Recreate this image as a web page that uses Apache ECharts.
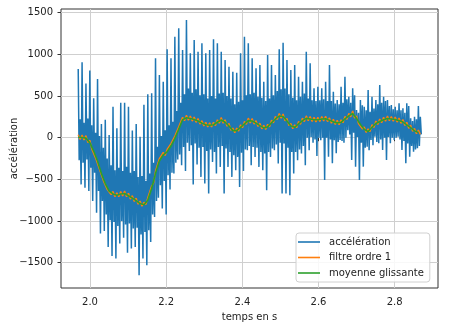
<!DOCTYPE html>
<html><head><meta charset="utf-8">
<script src="https://cdn.jsdelivr.net/npm/echarts@6/dist/echarts.min.js"></script>
<style>html,body{margin:0;padding:0;background:#fff}#c{width:450px;height:323px}</style>
</head><body><div id="c"></div>
<script>
// sampling: first sample time (s) and acceleration sample period (s)
const t0 = 1.969;
const dt = 0.0025375;
// acceleration, one oscillation after another: crest, low core value, high core value, trough
const crest = [825,906,650,805,472,703,163,215,33,370,114,419,419,370,85,163,12,394,520,532,952,752,672,1060,952,1211,1312,1052,1411,1012,1171,1031,1132,1012,1052,1180,1132,1031,932,852,792,780,1012,1211,1132,952,832,872,672,992,872,752,1060,1140,932,812,872,732,672,1031,892,592,612,592,672,872,552,452,612,732,492,592,332,452,372,572,492,452,632,492,452,392,372,412,352,412,232,252,380];
const coreLow = [-270,-300,-260,-360,-420,-640,-760,-920,-990,-1010,-1060,-1000,-1040,-1030,-1090,-1080,-1160,-1130,-1110,-920,-760,-570,-520,-450,-420,-300,-200,-110,-60,-90,-70,-120,-110,-160,-140,-170,-110,-100,-130,-170,-210,-230,-180,-140,-100,-110,-120,-170,-190,-170,-130,-80,-60,-70,-120,-170,-170,-140,-100,0,10,-20,0,0,0,-20,-30,-50,-40,0,40,60,10,-60,-120,-150,-90,-50,-20,0,10,0,0,-20,-40,-70,-100,-140,-100];
const coreHigh = [220,180,230,150,60,20,-120,-250,-330,-390,-360,-400,-350,-420,-400,-470,-460,-520,-430,-300,-110,20,90,150,190,320,420,520,590,540,580,510,520,470,500,470,530,540,500,470,400,430,450,510,520,540,490,480,440,470,510,560,580,590,520,480,450,490,530,470,450,440,450,460,440,440,410,400,420,460,420,510,300,390,330,310,350,400,420,440,380,340,330,330,300,380,200,220,250];
const trough = [-560,-600,-640,-760,-900,-1150,-1120,-1310,-1420,-1450,-1270,-1200,-1380,-1330,-1310,-1650,-1450,-1530,-1250,-950,-720,-850,-920,-620,-430,-260,-330,-400,-160,-560,-320,-470,-550,-670,-290,-430,-350,-670,-350,-470,-390,-590,-400,-150,-330,-230,-350,-390,-630,-230,-150,-310,-670,-670,-690,-430,-270,-190,-330,-150,-60,-220,-30,-507,-227,-307,-187,-27,-60,90,-267,-347,-507,-347,-107,-27,12,-67,-147,-267,-67,-27,12,-147,-307,-227,-167,-127,40];
// first-order filter output, two values per oscillation
const filtreOrdre1 = [35,-22, 32,-27, 25,-58, -30,-135, -130,-245, -250,-380, -400,-515, -520,-620, -610,-683, -645,-708, -660,-708, -645,-698, -640,-708, -667,-736, -695,-765, -725,-798, -760,-823, -775,-803, -720,-705, -580,-545, -400,-380, -250,-268, -177,-213, -140,-160, -70,-80, 20,20, 130,133, 245,203, 270,210, 260,199, 248,184, 230,163, 205,140, 185,128, 180,128, 185,145, 215,174, 242,174, 215,138, 170,88, 115,60, 115,80, 155,120, 195,160, 235,178, 230,163, 205,135, 175,107, 148,99, 160,130, 210,178, 255,218, 290,233, 285,203, 230,145, 170,108, 155,120, 195,160, 235,194, 262,204, 255,195, 245,190, 245,195, 255,202, 258,193, 238,174, 220,159, 208,157, 215,180, 255,219, 292,251, 320,235, 260,170, 190,105, 130,63, 105,75, 155,123, 200,158, 225,180, 245,198, 260,203, 255,197, 248,187, 235,172, 218,147, 185,113, 150,76, 112,47, 92,40];
// moving average, one value per oscillation
const moyenneGlissante = [5,2,-5,-60,-160,-280,-430,-550,-640,-675,-690,-675,-670,-697,-725,-755,-790,-805,-750,-610,-430,-280,-207,-170,-100,-10,100,215,240,230,218,200,175,155,150,155,185,212,185,140,85,85,125,165,205,200,175,145,118,130,180,225,260,255,200,140,125,165,205,232,225,215,215,225,228,208,190,178,185,225,262,290,230,160,100,75,125,170,195,215,230,225,218,205,188,155,120,82,62];
const seriesNames = ['accélération','filtre ordre 1','moyenne glissante'];
const xTicks = [2.0, 2.2, 2.4, 2.6, 2.8];
const yTicks = [-1500, -1000, -500, 0, 500, 1000, 1500];

const font = 'DejaVu Sans';
const accData = [];
crest.forEach((p,k)=>{
  [p, coreLow[k], coreHigh[k], trough[k]].forEach((v,j)=>accData.push([t0+(4*k+j)*dt, v]));
});
const filtData = filtreOrdre1.map((v,i)=>[t0+2*i*dt, v]);
const moyData = moyenneGlissante.map((v,i)=>[t0+4*i*dt, v]);

const chart = echarts.init(document.getElementById('c'), null, {renderer:'canvas'});
chart.setOption({
  animation:false,
  textStyle:{fontFamily:font},
  grid:{left:61, top:9, width:377, height:279, outerBoundsMode:'none', containLabel:false,
    show:true, borderColor:'#333', borderWidth:1, backgroundColor:'#fff'},
  xAxis:{type:'value', min:1.9238, max:2.9137, splitNumber:5,
    name:'temps en s', nameLocation:'middle', nameGap:24, nameMoveOverlap:false,
    nameTextStyle:{fontFamily:font, fontSize:10, color:'#222'},
    axisLine:{show:false},
    axisTick:{show:true, inside:false, length:3.5, lineStyle:{color:'#333'}, customValues:xTicks},
    axisLabel:{fontFamily:font, fontSize:10, color:'#222', margin:9, customValues:xTicks, formatter:v=>Number(v).toFixed(1)},
    splitLine:{show:true, lineStyle:{color:'#cfcfcf', width:1}}},
  yAxis:{type:'value', min:-1803, max:1544, splitNumber:7,
    name:'accélération', nameLocation:'middle', nameGap:42, nameMoveOverlap:false,
    nameTextStyle:{fontFamily:font, fontSize:10, color:'#222'},
    axisLine:{show:false},
    axisTick:{show:true, inside:false, length:3.5, lineStyle:{color:'#333'}, customValues:yTicks},
    axisLabel:{fontFamily:font, fontSize:10, color:'#222', margin:8, customValues:yTicks, formatter:v=>String(v).replace('-','\u2212')},
    splitLine:{show:true, lineStyle:{color:'#cfcfcf', width:1}}},
  legend:{orient:'vertical', left:296, top:233, width:137,
    backgroundColor:'rgba(255,255,255,0.85)', borderColor:'#d0d0d0', borderWidth:1, borderRadius:3,
    padding:[3,6,3,2], itemGap:3.5, itemWidth:22, itemHeight:1.6, icon:'rect',
    textStyle:{fontFamily:font, fontSize:10, color:'#222', padding:[0,0,0,4], lineHeight:12},
    data:seriesNames},
  series:[
    {name:seriesNames[0], type:'line', data:accData, symbol:'none', sampling:null, lineStyle:{color:'#1f77b4', width:1.5}, itemStyle:{color:'#1f77b4'}, z:2},
    {name:seriesNames[1], type:'line', data:filtData, symbol:'none', lineStyle:{color:'#ff7f0e', width:1.4}, itemStyle:{color:'#ff7f0e'}, z:3},
    {name:seriesNames[2], type:'line', data:moyData, symbol:'none', lineStyle:{color:'#2ca02c', width:1.6}, itemStyle:{color:'#2ca02c'}, z:4}
  ]
});
</script></body></html>
